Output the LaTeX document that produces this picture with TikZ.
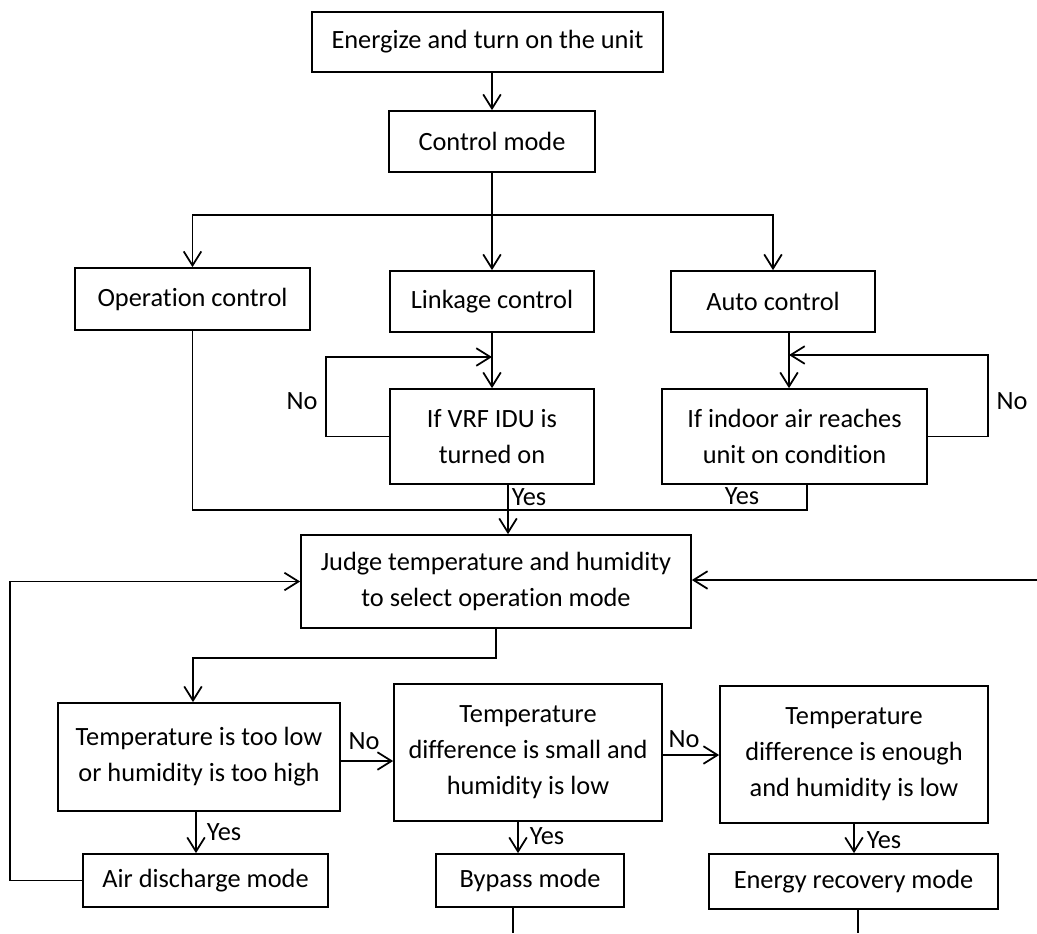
\documentclass[tikz,border=0pt]{standalone}
\usepackage{fontspec}
\setmainfont{Carlito}[Ligatures=NoCommon]
\usepackage{tikz}
\usetikzlibrary{arrows.meta}

\begin{document}
\begin{tikzpicture}[x=0.02cm,y=-0.02cm,
        line width=1pt,
        box/.style={draw,align=center,inner sep=0pt,font=\fontsize{15}{20.5}\selectfont},
        lbl/.style={inner sep=0pt,font=\fontsize{15}{18}\selectfont},
        arr/.style={-{Straight Barb[length=8pt,width=10pt,line width=1pt]}}]
        \useasboundingbox (0,0) rectangle (1037,933);
        % Start
        \node[box,minimum width=7.02cm,minimum height=1.2cm] (energize) at (487.5,42) {Energize and turn on the unit};
        \node[box,minimum width=4.12cm,minimum height=1.22cm] (ctrl) at (492,141.5) {Control mode};
        \draw[arr] (energize.south -| ctrl.north) -- (ctrl.north);
        % Three controls
        \node[box,minimum width=4.7cm,minimum height=1.24cm] (oper) at (192.5,299) {Operation control};
        \node[box,minimum width=4.08cm,minimum height=1.22cm] (link) at (492,301.5) {Linkage control};
        \node[box,minimum width=4.08cm,minimum height=1.22cm] (auto) at (773,301.5) {Auto control};
        \coordinate (split) at (492,215);
        \draw (ctrl.south) -- (split);
        \draw[arr] (split) -- (link.north);
        \draw[arr] (split) -| (oper.north);
        \draw[arr] (split) -| (auto.north);
        % Linkage check
        \node[box,minimum width=4.08cm,minimum height=1.9cm] (vrf) at (492,436.5) {If VRF IDU is\\turned on};
        \coordinate (linkjoin) at (492,357);
        \coordinate (vrfloop) at (326,436.5);
        \draw[arr] (link.south) -- (vrf.north);
        \draw[arr] (vrf.west) -- (vrfloop) |- (linkjoin);
        \node[lbl] (no1) at (302,401) {No};
        % Auto check
        \node[box,minimum width=5.3cm,minimum height=1.9cm] (indoor) at (794.5,436.5) {If indoor air reaches\\unit on condition};
        \coordinate (autojoin) at (789,355);
        \coordinate (indoorloop) at (988,436.5);
        \draw[arr] (autojoin |- auto.south) -- (autojoin |- indoor.north);
        \draw[arr] (indoor.east) -- (indoorloop) |- (autojoin);
        \node[lbl] (no2) at (1012,401) {No};
        % Merge
        \node[box,minimum width=7.8cm,minimum height=1.86cm] (judge) at (496,581.5) {Judge temperature and humidity\\to select operation mode};
        \coordinate (mergeR) at (807,510);
        \coordinate (yesdrop) at (508,510);
        \draw (oper.south) |- (mergeR) -- (mergeR |- indoor.south);
        \draw[arr] (yesdrop |- vrf.south) -- (yesdrop |- judge.north);
        \node[lbl] (yes1) at (529,497) {Yes};
        \node[lbl] (yes2) at (742,496) {Yes};
        % Mode checks
        \node[box,minimum width=5.64cm,minimum height=2.16cm] (low) at (199,757) {Temperature is too low\\or humidity is too high};
        \node[box,minimum width=5.36cm,minimum height=2.74cm] (small) at (528,752.5) {Temperature\\difference is small and\\humidity is low};
        \node[box,minimum width=5.36cm,minimum height=2.74cm] (enough) at (854,754.5) {Temperature\\difference is enough\\and humidity is low};
        \coordinate (lowdrop) at (193,658);
        \coordinate (nofirst) at (364,761);
        \coordinate (nosecond) at (684,755);
        \draw[arr] (judge.south) |- (lowdrop) -- (lowdrop |- low.north);
        \draw[arr] (low.east |- nofirst) -- (small.west |- nofirst);
        \draw[arr] (small.east |- nosecond) -- (enough.west |- nosecond);
        \node[lbl] (no3) at (364,741) {No};
        \node[lbl] (no4) at (684,739) {No};
        % Modes
        \node[box,minimum width=4.9cm,minimum height=1.06cm] (air) at (205.5,880.5) {Air discharge mode};
        \node[box,minimum width=3.76cm,minimum height=1.06cm] (bypass) at (530,880.5) {Bypass mode};
        \node[box,minimum width=5.78cm,minimum height=1.1cm] (energy) at (853.5,881.5) {Energy recovery mode};
        \coordinate (airyes) at (196,832);
        \coordinate (bypassyes) at (518,836);
        \coordinate (energyyes) at (854,840);
        \draw[arr] (airyes |- low.south) -- (airyes |- air.north);
        \draw[arr] (bypassyes |- small.south) -- (bypassyes |- bypass.north);
        \draw[arr] (energyyes |- enough.south) -- (energyyes |- energy.north);
        \node[lbl] (yes3) at (224,832) {Yes};
        \node[lbl] (yes4) at (547,836) {Yes};
        \node[lbl] (yes5) at (884,840) {Yes};
        % Returns and outlets
        \coordinate (airleft) at (10,880.5);
        \coordinate (backR) at (1037,580);
        \coordinate (bypassout) at (513,933);
        \coordinate (energyout) at (858,933);
        \draw[arr] (air.west) -- (airleft) |- (judge.west);
        \draw[arr] (backR) -- (backR -| judge.east);
        \draw (bypassout |- bypass.south) -- (bypassout);
        \draw (energyout |- energy.south) -- (energyout);
\end{tikzpicture}
\end{document}
